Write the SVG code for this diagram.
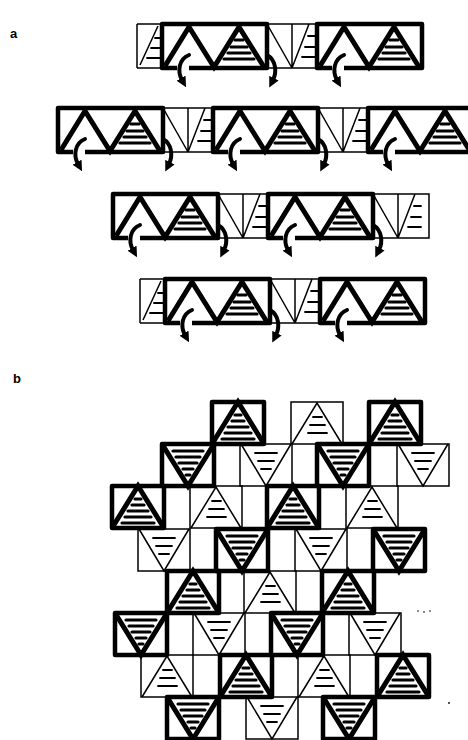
<svg xmlns="http://www.w3.org/2000/svg" width="468" height="740" viewBox="0 0 468 740">
<style>
.lbl{font-family:"Liberation Sans",Arial,sans-serif;font-weight:bold;font-size:13px;fill:#000}
.bb{fill:none;stroke:#000;stroke-width:4.5;stroke-linejoin:round}
.bt{fill:none;stroke:#000;stroke-width:5;stroke-linejoin:miter}
.bh{fill:none;stroke:#000;stroke-width:3.2;stroke-linecap:round}
.tl{fill:none;stroke:#000;stroke-width:1.5}
.th{fill:none;stroke:#000;stroke-width:1.8;stroke-linecap:round}
.arr{fill:none;stroke:#000;stroke-width:4;stroke-linecap:round}
</style>
<defs>
<marker id="ah" viewBox="0 0 10 10" refX="2" refY="5" markerWidth="2.6" markerHeight="2.6" orient="auto">
<path d="M0,0 L10,5 L0,10 z" fill="#000"/>
</marker>
<g id="abox">
<path class="bb" d="M15,44 H0 V0 H105 V44 H27"/>
<path class="bt" d="M3,42 L27,3 L52,43 L77,3 L102,43"/>
<path class="bh" d="M73,16 H81 M69,23 H85 M66,29 H88 M62,35 H92"/>
</g>
<g id="athin">
<path class="tl" d="M0,0 H50 M0,44 H50 M0,0 L25,44 M25,0 V44 M25,44 L42,0"/>
<path class="th" d="M41,12 H48 M38,23 H48 M35,33 H48"/>
</g>
<g id="astart">
<path class="tl" d="M0,0 V44 M0,0 H25 M0,44 H25 M3,41 L21,2"/>
<path class="th" d="M18,14 H24 M14,24 H24 M10,34 H24"/>
</g>
<g id="bu">
<rect class="bb" x="0" y="0" width="52" height="42"/>
<path class="bt" d="M0,42 L26,0 L52,42"/>
<path class="bh" d="M23,13 H29 M20,19 H32 M16,25 H36 M13,31 H39 M10,37 H42"/>
</g>
<g id="bd">
<rect class="bb" x="0" y="0" width="52" height="42"/>
<path class="bt" d="M0,0 L26,42 L52,0"/>
<path class="bh" d="M11,7 H41 M14,13 H38 M17,19 H35 M21,25 H31 M24,31 H28"/>
</g>
<g id="tu">
<rect class="tl" x="0" y="0" width="52" height="42"/>
<path class="tl" d="M1,42 L26,1 L51,42"/>
<path class="th" d="M22,15 H31 M19,23 H34 M17,31 H36"/>
</g>
<g id="td">
<rect class="tl" x="0" y="0" width="52" height="42"/>
<path class="tl" d="M1,0 L26,42 L51,0"/>
<path class="th" d="M15,9 H37 M18,17 H34 M21,25 H31"/>
</g>
</defs>

<text class="lbl" x="10" y="38">a</text>
<text class="lbl" x="13" y="383">b</text>

<g id="a-row1">
<g id="a1-start"><use href="#astart" x="137" y="24"/></g>
<g id="a1-box1"><use href="#abox" x="162" y="24"/></g>
<g id="a1-thin1"><use href="#athin" x="267" y="24"/></g>
<g id="a1-box2"><use href="#abox" x="317" y="24"/></g>
</g>
<g id="a-row2">
<g id="a2-box1"><use href="#abox" x="58" y="108"/></g>
<g id="a2-thin1"><use href="#athin" x="163" y="108"/></g>
<g id="a2-box2"><use href="#abox" x="213" y="108"/></g>
<g id="a2-thin2"><use href="#athin" x="318" y="108"/></g>
<g id="a2-box3"><use href="#abox" x="368" y="108"/></g>
</g>
<g id="a-row3">
<g id="a3-box1"><use href="#abox" x="113" y="194"/></g>
<g id="a3-thin1"><use href="#athin" x="218" y="194"/></g>
<g id="a3-box2"><use href="#abox" x="268" y="194"/></g>
<g id="a3-thin2"><use href="#athin" x="373" y="194"/>
<path class="tl" d="M423,194 H429 V238 H423"/></g>
</g>
<g id="a-row4">
<g id="a4-start"><use href="#astart" x="140" y="279"/></g>
<g id="a4-box1"><use href="#abox" x="165" y="279"/></g>
<g id="a4-thin1"><use href="#athin" x="270" y="279"/></g>
<g id="a4-box2"><use href="#abox" x="320" y="279"/></g>
</g>

<g id="connectors" class="arr" marker-end="url(#ah)">
<path d="M189,55 C179,59 177,71 182,80"/>
<path d="M267,55 C276,60 277,72 273,80"/>
<path d="M344,55 C334,59 332,71 337,80"/>
<path d="M85,139 C75,143 73,155 78,164"/>
<path d="M163,139 C172,144 173,156 169,164"/>
<path d="M240,139 C230,143 228,155 233,164"/>
<path d="M318,139 C327,144 328,156 324,164"/>
<path d="M395,139 C385,143 383,155 388,164"/>
<path d="M140,225 C130,229 128,241 133,250"/>
<path d="M218,225 C227,230 228,242 224,250"/>
<path d="M295,225 C285,229 283,241 288,250"/>
<path d="M373,225 C382,230 383,242 379,250"/>
<path d="M192,310 C182,314 180,326 185,335"/>
<path d="M270,310 C279,315 280,327 276,335"/>
<path d="M347,310 C337,314 335,326 340,335"/>
</g>

<g id="b-r0">
<g id="b00"><use href="#bu" x="212" y="402"/></g>
<g id="b01"><use href="#tu" x="291" y="402"/></g>
<g id="b02"><use href="#bu" x="369" y="402"/></g>
</g>
<g id="b-r1">
<g id="b10"><use href="#bd" x="162" y="444"/></g>
<g id="b11"><use href="#td" x="240" y="444"/></g>
<g id="b12"><use href="#bd" x="317" y="444"/></g>
<g id="b13"><use href="#td" x="397" y="444"/></g>
</g>
<g id="b-r2">
<g id="b20"><use href="#bu" x="112" y="486"/></g>
<g id="b21"><use href="#tu" x="190" y="486"/></g>
<g id="b22"><use href="#bu" x="267" y="486"/></g>
<g id="b23"><use href="#tu" x="346" y="486"/></g>
</g>
<g id="b-r3">
<g id="b31"><use href="#td" x="138" y="529"/></g>
<g id="b32"><use href="#bd" x="216" y="529"/></g>
<g id="b33"><use href="#td" x="295" y="529"/></g>
<g id="b34"><use href="#bd" x="373" y="529"/></g>
</g>
<g id="b-r4">
<g id="b42"><use href="#bu" x="167" y="571"/></g>
<g id="b43"><use href="#tu" x="244" y="571"/></g>
<g id="b44"><use href="#bu" x="322" y="571"/></g>
</g>
<g id="b-r5">
<g id="b52"><use href="#bd" x="115" y="613"/></g>
<g id="b53"><use href="#td" x="193" y="613"/></g>
<g id="b54"><use href="#bd" x="271" y="613"/></g>
<g id="b55"><use href="#td" x="349" y="613"/></g>
</g>
<g id="b-r6">
<g id="b63"><use href="#tu" x="141" y="655"/></g>
<g id="b64"><use href="#bu" x="220" y="655"/></g>
<g id="b65"><use href="#tu" x="298" y="655"/></g>
<g id="b66"><use href="#bu" x="377" y="655"/></g>
</g>
<g id="b-r7">
<g id="b74"><use href="#bd" x="167" y="697"/></g>
<g id="b75"><use href="#td" x="246" y="697"/></g>
<g id="b76"><use href="#bd" x="323" y="697"/></g>
</g>
<g id="specks" fill="#000">
<circle cx="418" cy="611" r="0.8"/><circle cx="424" cy="612" r="0.8"/><circle cx="430" cy="611" r="0.8"/>
<circle cx="449" cy="703" r="0.9"/>
</g>
</svg>
